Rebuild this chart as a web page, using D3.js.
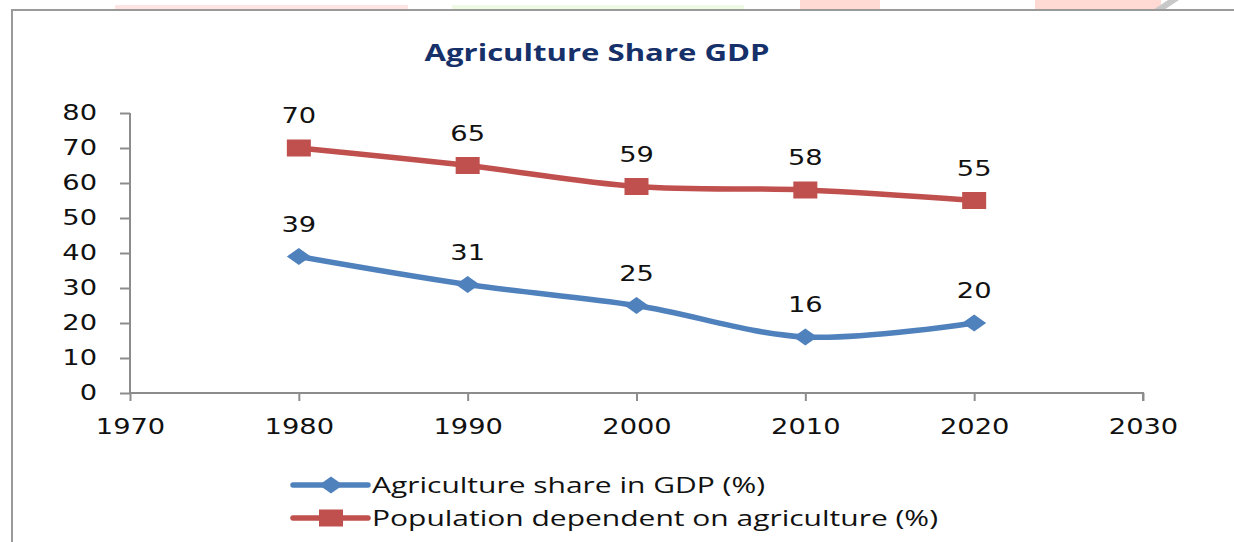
<!DOCTYPE html>
<html>
<head>
<meta charset="utf-8">
<script src="https://cdn.jsdelivr.net/npm/d3@7"></script>
<style>
  body { margin: 0; background: #fff; }
  svg { display: block; }
</style>
</head>
<body>
<svg id="chart" width="1234" height="542"></svg>
<script>
'use strict';

var years = [1980, 1990, 2000, 2010, 2020];
var gdpShare = [39, 31, 25, 16, 20];
var popDependent = [70, 65, 59, 58, 55];
var xTicks = [1970, 1980, 1990, 2000, 2010, 2020, 2030];
var yTicks = [0, 10, 20, 30, 40, 50, 60, 70, 80];
var seriesNames = ['Agriculture share in GDP (%)', 'Population dependent on agriculture (%)'];

var blue = '#4f81bd', red = '#c0504d', axisGrey = '#8c8c8c';
var stretch = 1.3; // the picture's text is wide, so stretch glyphs horizontally
var numFont = '"DejaVu Sans", Verdana, sans-serif';

var svg = d3.select('#chart');

// faint remains of a banner above the frame
svg.append('rect').attr('x', 115).attr('y', 5).attr('width', 293).attr('height', 5).attr('fill', '#ffe4e4');
svg.append('rect').attr('x', 452).attr('y', 5).attr('width', 292).attr('height', 5).attr('fill', '#eefae4');
svg.append('rect').attr('x', 800).attr('y', 0).attr('width', 80).attr('height', 10).attr('fill', '#ffd9d3');
svg.append('rect').attr('x', 1035).attr('y', 0).attr('width', 126).attr('height', 10).attr('fill', '#ffd9d3');
svg.append('path').attr('d', 'M1153,10 L1168,0 L1179,0 L1164,10 Z').attr('fill', '#c8c8c8');

// chart frame
svg.append('rect')
  .attr('x', 12).attr('y', 10).attr('width', 1240).attr('height', 560)
  .attr('fill', 'none').attr('stroke', '#9a9a9a').attr('stroke-width', 2);

svg.append('text')
  .attr('x', 597).attr('y', 61)
  .attr('text-anchor', 'middle')
  .attr('font-family', '"Open Sans", sans-serif')
  .attr('font-weight', 'bold')
  .attr('font-size', 23)
  .attr('fill', '#16306a')
  .attr('textLength', 345)
  .attr('lengthAdjust', 'spacingAndGlyphs')
  .text('Agriculture Share GDP');

var x = d3.scaleLinear().domain([1970, 2030]).range([130, 1143]);
var y = d3.scaleLinear().domain([0, 80]).range([393, 113]);

function stretchText(sel) {
  sel.each(function () {
    var t = d3.select(this);
    var tx = +t.attr('x') || 0;
    t.attr('x', tx / stretch).attr('transform', 'scale(' + stretch + ',1)');
  });
}

var yAxis = svg.append('g')
  .attr('transform', 'translate(' + x(1970) + ',0)')
  .call(d3.axisLeft(y).tickValues(yTicks).tickSize(10).tickPadding(23).tickFormat(d3.format('d')));

var xAxis = svg.append('g')
  .attr('transform', 'translate(0,' + y(0) + ')')
  .call(d3.axisBottom(x).tickValues(xTicks).tickSize(8).tickPadding(18).tickFormat(d3.format('d')));

[yAxis, xAxis].forEach(function (ax) {
  ax.select('.domain').attr('stroke', axisGrey).attr('stroke-width', 2);
  ax.selectAll('.tick line').attr('stroke', axisGrey).attr('stroke-width', 2);
  ax.selectAll('.tick text')
    .attr('font-family', numFont).attr('font-size', 21).attr('fill', '#111');
  stretchText(ax.selectAll('.tick text'));
});
// d3 draws outer tick stubs at the domain ends; keep the axis lines plain
yAxis.select('.domain').attr('d', 'M0,' + y(80) + 'V' + y(0));
xAxis.select('.domain').attr('d', 'M' + x(1970) + ',0H' + x(2030) + 'V8');

var line = d3.line()
  .x(function (d) { return x(d.year); })
  .y(function (d) { return y(d.value); })
  .curve(d3.curveCatmullRom.alpha(0));

function toPoints(values) {
  return years.map(function (yr, i) { return { year: yr, value: values[i] }; });
}

var series = [
  { name: seriesNames[0], color: blue, marker: 'diamond', points: toPoints(gdpShare) },
  { name: seriesNames[1], color: red, marker: 'square', points: toPoints(popDependent) }
];

function drawMarker(g, type, color) {
  if (type === 'diamond') {
    g.append('path').attr('d', 'M-12,0 L0,-8.5 L12,0 L0,8.5 Z').attr('fill', color);
  } else {
    g.append('rect').attr('x', -12).attr('y', -8.5).attr('width', 24).attr('height', 17).attr('fill', color);
  }
}

series.forEach(function (s) {
  svg.append('path')
    .datum(s.points)
    .attr('fill', 'none')
    .attr('stroke', s.color)
    .attr('stroke-width', 5.5)
    .attr('stroke-linejoin', 'round')
    .attr('d', line);

  var pts = svg.append('g').selectAll('g')
    .data(s.points)
    .enter().append('g')
    .attr('transform', function (d) { return 'translate(' + x(d.year) + ',' + y(d.value) + ')'; });
  pts.each(function () { drawMarker(d3.select(this), s.marker, s.color); });

  pts.append('text')
    .attr('y', -25)
    .attr('text-anchor', 'middle')
    .attr('font-family', numFont)
    .attr('font-size', 21)
    .attr('fill', '#111')
    .attr('transform', 'scale(' + stretch + ',1)')
    .text(function (d) { return d.value; });
});

// legend
var legend = svg.append('g');
series.forEach(function (s, i) {
  var ly = 485 + i * 33;
  var g = legend.append('g').attr('transform', 'translate(0,' + ly + ')');
  g.append('line').attr('x1', 293).attr('x2', 368).attr('y1', 0).attr('y2', 0)
    .attr('stroke', s.color).attr('stroke-width', 5.5).attr('stroke-linecap', 'round');
  drawMarker(g.append('g').attr('transform', 'translate(331,0)'), s.marker, s.color);
  g.append('text')
    .attr('x', 372).attr('y', 7.5)
    .attr('font-family', '"Open Sans", sans-serif')
    .attr('font-size', 21)
    .attr('fill', '#111')
    .attr('textLength', i === 0 ? 393 : 566)
    .attr('lengthAdjust', 'spacingAndGlyphs')
    .text(s.name);
});
</script>
</body>
</html>
